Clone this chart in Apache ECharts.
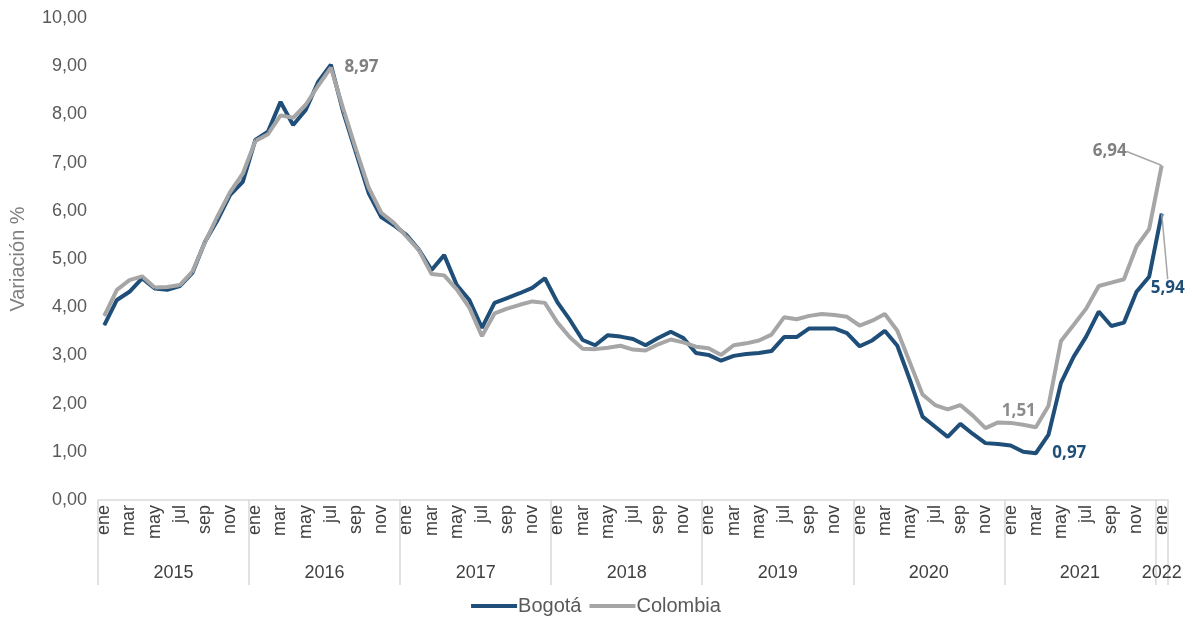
<!DOCTYPE html>
<html>
<head>
<meta charset="utf-8">
<script src="https://cdn.jsdelivr.net/npm/echarts@6/dist/echarts.min.js"></script>
<style>
html,body{margin:0;padding:0;background:#fff;}
#chart{width:1192px;height:622px;}
</style>
</head>
<body>
<div id="chart"></div>
<script>
const years = ['2015','2016','2017','2018','2019','2020','2021','2022'];
const months = ['ene','feb','mar','abr','may','jun','jul','ago','sep','oct','nov','dic'];
const bogota = [
  3.63,4.15,4.32,4.60,4.39,4.36,4.44,4.71,5.36,5.81,6.33,6.60,
  7.47,7.64,8.26,7.78,8.09,8.68,9.03,8.03,7.20,6.37,5.87,5.70,
  5.50,5.19,4.77,5.08,4.46,4.15,3.57,4.09,4.19,4.29,4.40,4.60,
  4.10,3.73,3.32,3.21,3.42,3.39,3.34,3.21,3.36,3.49,3.36,3.05,
  3.01,2.89,2.99,3.03,3.05,3.09,3.38,3.38,3.56,3.56,3.56,3.46,
  3.19,3.31,3.51,3.20,2.49,1.73,1.52,1.31,1.58,1.37,1.18,1.16,
  1.13,1.00,0.97,1.35,2.43,2.97,3.39,3.91,3.61,3.68,4.32,4.63,
  5.94
];
const colombia = [
  3.82,4.36,4.56,4.64,4.41,4.42,4.46,4.74,5.35,5.89,6.39,6.77,
  7.45,7.59,7.98,7.93,8.20,8.60,8.97,8.10,7.27,6.48,5.96,5.75,
  5.47,5.18,4.69,4.66,4.37,3.99,3.40,3.87,3.97,4.05,4.12,4.09,
  3.68,3.37,3.14,3.13,3.16,3.20,3.12,3.10,3.23,3.33,3.27,3.18,
  3.15,3.01,3.21,3.25,3.31,3.43,3.79,3.75,3.82,3.86,3.84,3.80,
  3.62,3.72,3.86,3.51,2.85,2.19,1.97,1.88,1.97,1.75,1.49,1.61,
  1.60,1.56,1.51,1.95,3.30,3.63,3.97,4.44,4.51,4.58,5.26,5.62,
  6.94
];
const yTicks = [0,1,2,3,4,5,6,7,8,9,10];

// build categories: every month from ene 2015 to ene 2022
const categories = [];
const catYear = [];
years.forEach((y, yi) => {
  const n = (yi === years.length - 1) ? 1 : 12;
  for (let m = 0; m < n; m++) { categories.push(months[m]); catYear.push(y); }
});
const nCat = categories.length;

// year label positions (middle of each year's span, in category units)
const yearPos = {};
years.forEach((y) => {
  const first = catYear.indexOf(y);
  const last = catYear.lastIndexOf(y);
  yearPos[((first + last + 1) / 2).toFixed(1)] = y;
});

const fmt = v => v.toFixed(2).replace('.', ',');
const BLUE = '#1f4e79';
const GRAY = '#a6a6a6';
const labelFont = {fontFamily: 'Open Sans', fontWeight: 'bold', fontSize: 17};

function buildData(values, labels) {
  return values.map((v, i) => {
    if (labels[i]) return {value: v, label: Object.assign({show: true, formatter: p => fmt(p.value)}, labels[i].label), labelLine: labels[i].labelLine};
    return v;
  });
}
const bogLabels = {
  74: {label: Object.assign({position: 'right', distance: 16, color: BLUE}, labelFont)},
  84: {label: Object.assign({position: 'bottom', color: BLUE}, labelFont), labelLine: {show: true, lineStyle: {color: GRAY, width: 1.5}}}
};
const colLabels = {
  18: {label: Object.assign({position: 'right', distance: 13, color: '#808080'}, labelFont)},
  74: {label: Object.assign({position: 'top', color: '#8c8c8c'}, labelFont)},
  84: {label: Object.assign({position: 'top', color: '#808080'}, labelFont), labelLine: {show: true, lineStyle: {color: GRAY, width: 1.5}}}
};

const chart = echarts.init(document.getElementById('chart'));
chart.setOption({
  animation: false,
  grid: {left: 98, right: 24, top: 18, bottom: 122},
  legend: {
    bottom: 1, left: 'center',
    data: ['Bogotá', 'Colombia'],
    icon: 'rect', itemWidth: 46, itemHeight: 4, itemGap: 8,
    textStyle: {color: '#595959', fontSize: 20, fontFamily: 'Liberation Sans', padding: [0, 0, 0, -4]}
  },
  xAxis: [{
    type: 'category',
    data: categories,
    boundaryGap: true,
    axisLine: {show: true, lineStyle: {color: '#d9d9d9', width: 1.5}},
    axisTick: {show: true, length: 85, interval: (i) => i % 12 === 0, lineStyle: {color: '#d9d9d9', width: 1.5}},
    axisLabel: {interval: 1, rotate: 90, color: '#404040', fontSize: 18, fontFamily: 'Liberation Sans', margin: 5}
  }, {
    type: 'value',
    position: 'bottom',
    offset: 56,
    min: 0, max: nCat, interval: 0.5,
    axisLine: {show: false}, axisTick: {show: false}, splitLine: {show: false},
    axisLabel: {
      show: true, showMinLabel: false, showMaxLabel: false,
      color: '#404040', fontSize: 18, fontFamily: 'Liberation Sans',
      formatter: v => yearPos[v.toFixed(1)] || ''
    }
  }],
  yAxis: {
    type: 'value', min: yTicks[0], max: yTicks[yTicks.length - 1], interval: 1,
    name: 'Variación %', nameLocation: 'middle', nameGap: 70,
    nameTextStyle: {color: '#7f7f7f', fontSize: 20, fontFamily: 'Liberation Sans'},
    axisLine: {show: false}, axisTick: {show: false}, splitLine: {show: false},
    axisLabel: {color: '#595959', fontSize: 18, fontFamily: 'Liberation Sans', margin: 11, formatter: v => fmt(v)}
  },
  series: [{
    name: 'Bogotá', type: 'line', xAxisIndex: 0,
    data: buildData(bogota, bogLabels),
    symbol: 'circle', symbolSize: 1, showSymbol: true,
    lineStyle: {color: BLUE, width: 4}, itemStyle: {color: BLUE},
    labelLayout: p => p.dataIndex === 84 ? {dx: 6, dy: 60} : {}
  }, {
    name: 'Colombia', type: 'line', xAxisIndex: 0,
    data: buildData(colombia, colLabels),
    symbol: 'circle', symbolSize: 1, showSymbol: true,
    lineStyle: {color: GRAY, width: 4}, itemStyle: {color: GRAY},
    labelLayout: p => p.dataIndex === 84 ? {dx: -52, dy: 0} : (p.dataIndex === 74 ? {dx: -17, dy: -2} : {})
  }]
});
</script>
</body>
</html>
